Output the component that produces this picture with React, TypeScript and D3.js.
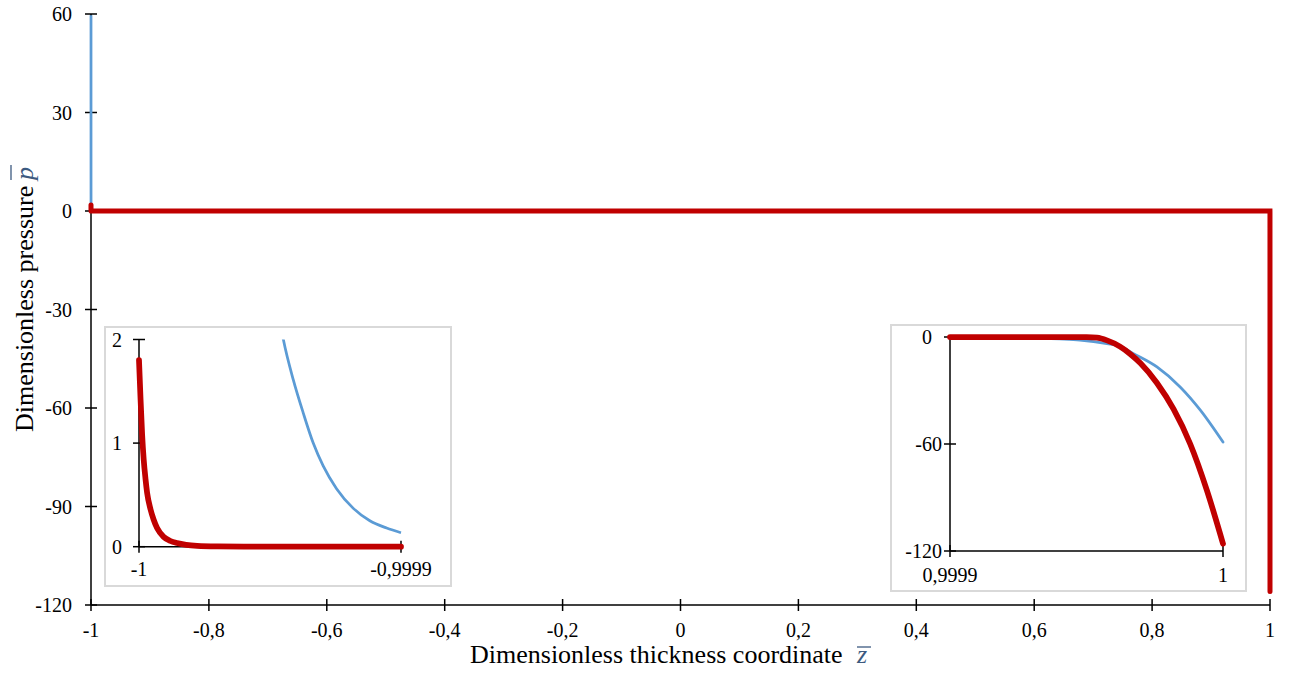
import React from 'react';
import * as d3 from 'd3';

const W = 1289;
const H = 679;

// Main axis ticks
const mainXTicks = [-1, -0.8, -0.6, -0.4, -0.2, 0, 0.2, 0.4, 0.6, 0.8, 1];
const mainYTicks = [-120, -90, -60, -30, 0, 30, 60];

// Near z = -1 : offsets t = (z + 1)·10^4
const leftBlueT = [0, 0.05, 0.1, 0.15, 0.2, 0.25, 0.3, 0.35, 0.4, 0.45, 0.5, 0.551, 0.589, 0.627, 0.665, 0.703, 0.754, 0.818, 0.881, 0.945, 1.0];
const leftBlueP = [59.6, 44, 32.5, 24, 17.6, 13, 9.6, 7.1, 5.2, 3.85, 2.8, 2.0, 1.61, 1.29, 1.0, 0.78, 0.56, 0.37, 0.25, 0.18, 0.135];
const leftRedT = [0, 0.006, 0.012, 0.018, 0.025, 0.031, 0.044, 0.056, 0.069, 0.094, 0.12, 0.145, 0.18, 0.222, 0.3, 0.4, 0.6, 0.8, 1.0];
const leftRedP = [1.8, 1.42, 1.08, 0.84, 0.65, 0.52, 0.36, 0.26, 0.18, 0.095, 0.055, 0.035, 0.018, 0.008, 0.002, 0, 0, 0, 0];

// Near z = 1 : offsets s = (z - 0.9999)·10^4
const rightBlueS = [0, 0.2, 0.4, 0.476, 0.575, 0.623, 0.672, 0.758, 0.843, 0.917, 1.0];
const rightBlueP = [0, -0.3, -1.1, -1.7, -3.7, -5.2, -9.3, -16.8, -28, -41, -58.9];
const rightRedS = [0, 0.2, 0.4, 0.5, 0.538, 0.575, 0.623, 0.66, 0.697, 0.758, 0.819, 0.88, 0.941, 1.0];
const rightRedP = [0, 0, 0, -0.1, -0.4, -1.9, -5.4, -9.5, -14.6, -25.8, -40.5, -60, -86, -115.9];

// Inset ticks and labels
const leftInsetXTicks = [0, 1];
const leftInsetXLabels = ['-1', '-0,9999'];
const leftInsetYTicks = [0, 1, 2];
const leftInsetYLabels = ['0', '1', '2'];
const rightInsetXTicks = [0, 1];
const rightInsetXLabels = ['0,9999', '1'];
const rightInsetYTicks = [-120, -60, 0];
const rightInsetYLabels = ['-120', '-60', '0\u2002'];

const BLUE = '#5B9BD5';
const RED = '#C00000';
const FONT = '"Liberation Serif", "Times New Roman", serif';
const SYM = '#3d5a80';

type Pt = [number, number];

const zip = (a: number[], b: number[]): Pt[] => a.map((v, i) => [v, b[i]]);

const fmt = (v: number) => String(v).replace('.', ',');

function Axes({ x, y, xTicks, yTicks, xLabels, yLabels, xAt, yAt, xLabelDy, yLabelGap }: any) {
  const [x0, x1] = x.range();
  const [y0, y1] = y.range();
  const ax = x(xAt);
  const ay = y(yAt);
  return (
    <g>
      <line x1={ax} x2={ax} y1={Math.min(y0, y1)} y2={Math.max(y0, y1)} stroke="#000" strokeWidth={1.5} />
      <line x1={x0} x2={x1} y1={ay} y2={ay} stroke="#000" strokeWidth={1.5} />
      {yTicks.map((t: number, i: number) => (
        <g key={'y' + i}>
          <line x1={ax - 6} x2={ax + 6} y1={y(t)} y2={y(t)} stroke="#000" strokeWidth={1.5} />
          <text x={ax - yLabelGap} y={y(t)} dy="0.35em" textAnchor="end" fontFamily={FONT} fontSize={20} fill="#000" style={{ whiteSpace: 'pre' }}>
            {yLabels[i]}
          </text>
        </g>
      ))}
      {xTicks.map((t: number, i: number) => (
        <g key={'x' + i}>
          <line x1={x(t)} x2={x(t)} y1={ay - 6} y2={ay + 6} stroke="#000" strokeWidth={1.5} />
          <text x={x(t)} y={ay + xLabelDy} textAnchor="middle" fontFamily={FONT} fontSize={20} fill="#000">
            {xLabels[i]}
          </text>
        </g>
      ))}
    </g>
  );
}

export default function App() {
  // main chart
  const x = d3.scaleLinear().domain([-1, 1]).range([91, 1270]);
  const y = d3.scaleLinear().domain([-120, 60]).range([605, 14]);

  const blueMain: Pt[] = [
    ...zip(leftBlueT.map((t) => -1 + t * 1e-4), leftBlueP),
    ...zip(rightBlueS.map((s) => 0.9999 + s * 1e-4), rightBlueP),
  ];
  const redMain: Pt[] = [
    ...zip(leftRedT.map((t) => -1 + t * 1e-4), leftRedP),
    ...zip(rightRedS.map((s) => 0.9999 + s * 1e-4), rightRedP),
  ];
  const mainLine = d3.line<Pt>().x((d) => x(d[0])).y((d) => y(d[1]));

  // left inset
  const lx = d3.scaleLinear().domain([0, 1]).range([139, 401]);
  const ly = d3.scaleLinear().domain([0, 2]).range([546.7, 339.5]);
  const lLine = d3.line<Pt>().x((d) => lx(d[0])).y((d) => ly(d[1])).curve(d3.curveMonotoneX);

  // right inset
  const rx = d3.scaleLinear().domain([0, 1]).range([950, 1223]);
  const ry = d3.scaleLinear().domain([-120, 0]).range([551, 337]);
  const rLine = d3.line<Pt>().x((d) => rx(d[0])).y((d) => ry(d[1])).curve(d3.curveMonotoneX);

  return (
    <svg width={W} height={H} style={{ position: 'absolute', left: 0, top: 0, background: '#fff' }}>
      <rect x={0} y={0} width={W} height={H} fill="#fff" />
      <defs>
        <clipPath id="clipL">
          <rect x={105} y={339.5} width={346} height={247} />
        </clipPath>
        <clipPath id="clipR">
          <rect x={891} y={325} width={355} height={266} />
        </clipPath>
      </defs>

      {/* main chart */}
      <Axes
        x={x}
        y={y}
        xTicks={mainXTicks}
        yTicks={mainYTicks}
        xLabels={mainXTicks.map(fmt)}
        yLabels={mainYTicks.map(fmt)}
        xAt={-1}
        yAt={-120}
        xLabelDy={32}
        yLabelGap={19}
      />
      <path d={mainLine(blueMain) || ''} fill="none" stroke={BLUE} strokeWidth={2.75} strokeLinejoin="round" />
      <path d={mainLine(redMain) || ''} fill="none" stroke={RED} strokeWidth={5} strokeLinejoin="miter" strokeLinecap="round" />

      {/* axis titles */}
      <text x={470} y={663} fontFamily={FONT} fontSize={26} fill="#000">
        Dimensionless thickness coordinate
      </text>
      <text x={857} y={663} fontFamily={FONT} fontSize={26} fontStyle="italic" fill={SYM}>z</text>
      <line x1={857} x2={871} y1={647} y2={647} stroke={SYM} strokeWidth={1.3} />

      <text transform="translate(33,432) rotate(-90)" fontFamily={FONT} fontSize={26} fill="#000">
        Dimensionless pressure
      </text>
      <text transform="translate(33,180) rotate(-90)" fontFamily={FONT} fontSize={26} fontStyle="italic" fill={SYM}>p</text>
      <line x1={11} x2={11} y1={165} y2={180} stroke={SYM} strokeWidth={1.3} />

      {/* left inset */}
      <rect x={105} y={327} width={346} height={259} fill="#fff" stroke="#d9d9d9" strokeWidth={2} />
      <Axes
        x={lx}
        y={ly}
        xTicks={leftInsetXTicks}
        yTicks={leftInsetYTicks}
        xLabels={leftInsetXLabels}
        yLabels={leftInsetYLabels}
        xAt={0}
        yAt={0}
        xLabelDy={29}
        yLabelGap={17}
      />
      <g clipPath="url(#clipL)">
        <path d={lLine(zip(leftBlueT, leftBlueP)) || ''} fill="none" stroke={BLUE} strokeWidth={2.75} strokeLinejoin="round" />
        <path d={lLine(zip(leftRedT, leftRedP)) || ''} fill="none" stroke={RED} strokeWidth={5.75} strokeLinejoin="round" strokeLinecap="round" />
      </g>

      {/* right inset */}
      <rect x={891} y={325} width={355} height={266} fill="#fff" stroke="#d9d9d9" strokeWidth={2} />
      <Axes
        x={rx}
        y={ry}
        xTicks={rightInsetXTicks}
        yTicks={rightInsetYTicks}
        xLabels={rightInsetXLabels}
        yLabels={rightInsetYLabels}
        xAt={0}
        yAt={-120}
        xLabelDy={31}
        yLabelGap={8}
      />
      <g clipPath="url(#clipR)">
        <path d={rLine(zip(rightBlueS, rightBlueP)) || ''} fill="none" stroke={BLUE} strokeWidth={2.75} strokeLinejoin="round" strokeLinecap="round" />
        <path d={rLine(zip(rightRedS, rightRedP)) || ''} fill="none" stroke={RED} strokeWidth={5.75} strokeLinejoin="round" strokeLinecap="round" />
      </g>
    </svg>
  );
}
